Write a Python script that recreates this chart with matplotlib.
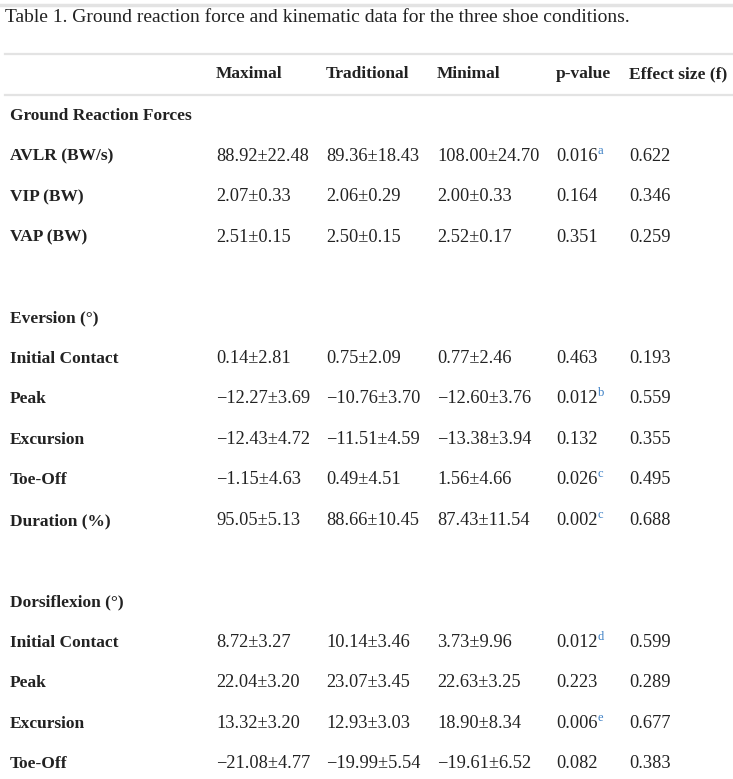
import matplotlib.pyplot as plt
from matplotlib.lines import Line2D

# Данные таблицы
title = 'Table 1. Ground reaction force and kinematic data for the three shoe conditions.'
headers = ['Maximal', 'Traditional', 'Minimal', 'p-value', 'Effect size (f)']

# строка = (метка, maximal, traditional, minimal, p, сноска, f)
grf_title = 'Ground Reaction Forces'
grf_rows = [
    ('AVLR (BW/s)', '88.92±22.48', '89.36±18.43', '108.00±24.70', '0.016', 'a', '0.622'),
    ('VIP (BW)', '2.07±0.33', '2.06±0.29', '2.00±0.33', '0.164', '', '0.346'),
    ('VAP (BW)', '2.51±0.15', '2.50±0.15', '2.52±0.17', '0.351', '', '0.259'),
]
ev_title = 'Eversion (°)'
ev_rows = [
    ('Initial Contact', '0.14±2.81', '0.75±2.09', '0.77±2.46', '0.463', '', '0.193'),
    ('Peak', '−12.27±3.69', '−10.76±3.70', '−12.60±3.76', '0.012', 'b', '0.559'),
    ('Excursion', '−12.43±4.72', '−11.51±4.59', '−13.38±3.94', '0.132', '', '0.355'),
    ('Toe-Off', '−1.15±4.63', '0.49±4.51', '1.56±4.66', '0.026', 'c', '0.495'),
    ('Duration (%)', '95.05±5.13', '88.66±10.45', '87.43±11.54', '0.002', 'c', '0.688'),
]
df_title = 'Dorsiflexion (°)'
df_rows = [
    ('Initial Contact', '8.72±3.27', '10.14±3.46', '3.73±9.96', '0.012', 'd', '0.599'),
    ('Peak', '22.04±3.20', '23.07±3.45', '22.63±3.25', '0.223', '', '0.289'),
    ('Excursion', '13.32±3.20', '12.93±3.03', '18.90±8.34', '0.006', 'e', '0.677'),
    ('Toe-Off', '−21.08±4.77', '−19.99±5.54', '−19.61±6.52', '0.082', '', '0.383'),
]

W, H = 733, 779
fig = plt.figure(figsize=(W / 100, H / 100), dpi=100)
plt.rcParams['font.family'] = ['Liberation Serif', 'DejaVu Serif']

txt_color = '#222222'
sup_color = '#3b7fc4'
line_color = '#e3e3e3'
fs = 12.5
fs_val = 13.2

col_x = [10, 216, 326, 437, 556, 629]


def fx(px):
    return px / W


def fy(py):
    return 1 - py / H


def hline(py, x0=5, x1=733, lw=1.6):
    fig.add_artist(Line2D([fx(x0), fx(x1)], [fy(py), fy(py)], color=line_color, lw=lw))


hline(5, 0, 733, 2.5)
hline(54)
hline(95)

# базовая линия текста примерно на 5 px ниже центра строки
BL = 5

fig.text(fx(5), fy(17 + BL), title, fontsize=14, color=txt_color, va='baseline')

for x, h in zip(col_x[1:], headers):
    fig.text(fx(x), fy(73 + BL), h, fontsize=fs, fontweight='bold', color=txt_color, va='baseline')

renderer = fig.canvas.get_renderer()


def draw_row(py, row):
    label, a, b, c, p, note, f = row
    yb = fy(py + BL)
    fig.text(fx(col_x[0]), yb, label, fontsize=fs, fontweight='bold', color=txt_color, va='baseline')
    for x, v in zip(col_x[1:4], [a, b, c]):
        fig.text(fx(x), yb, v, fontsize=fs_val, color=txt_color, va='baseline')
    t = fig.text(fx(col_x[4]), yb, p, fontsize=fs_val, color=txt_color, va='baseline')
    if note:
        bb = t.get_window_extent(renderer)
        fig.text(fx(bb.x1 + 0.5), fy(py - 2), note, fontsize=9, color=sup_color, va='baseline')
    fig.text(fx(col_x[5]), yb, f, fontsize=fs_val, color=txt_color, va='baseline')


sections = [(115, grf_title, grf_rows), (317, ev_title, ev_rows), (601, df_title, df_rows)]
step = 40.6
for y0, name, rows in sections:
    fig.text(fx(col_x[0]), fy(y0 + BL), name, fontsize=fs, fontweight='bold', color=txt_color, va='baseline')
    for i, row in enumerate(rows):
        draw_row(y0 + step * (i + 1), row)

fig.savefig('out.png', dpi=100, facecolor='white')
